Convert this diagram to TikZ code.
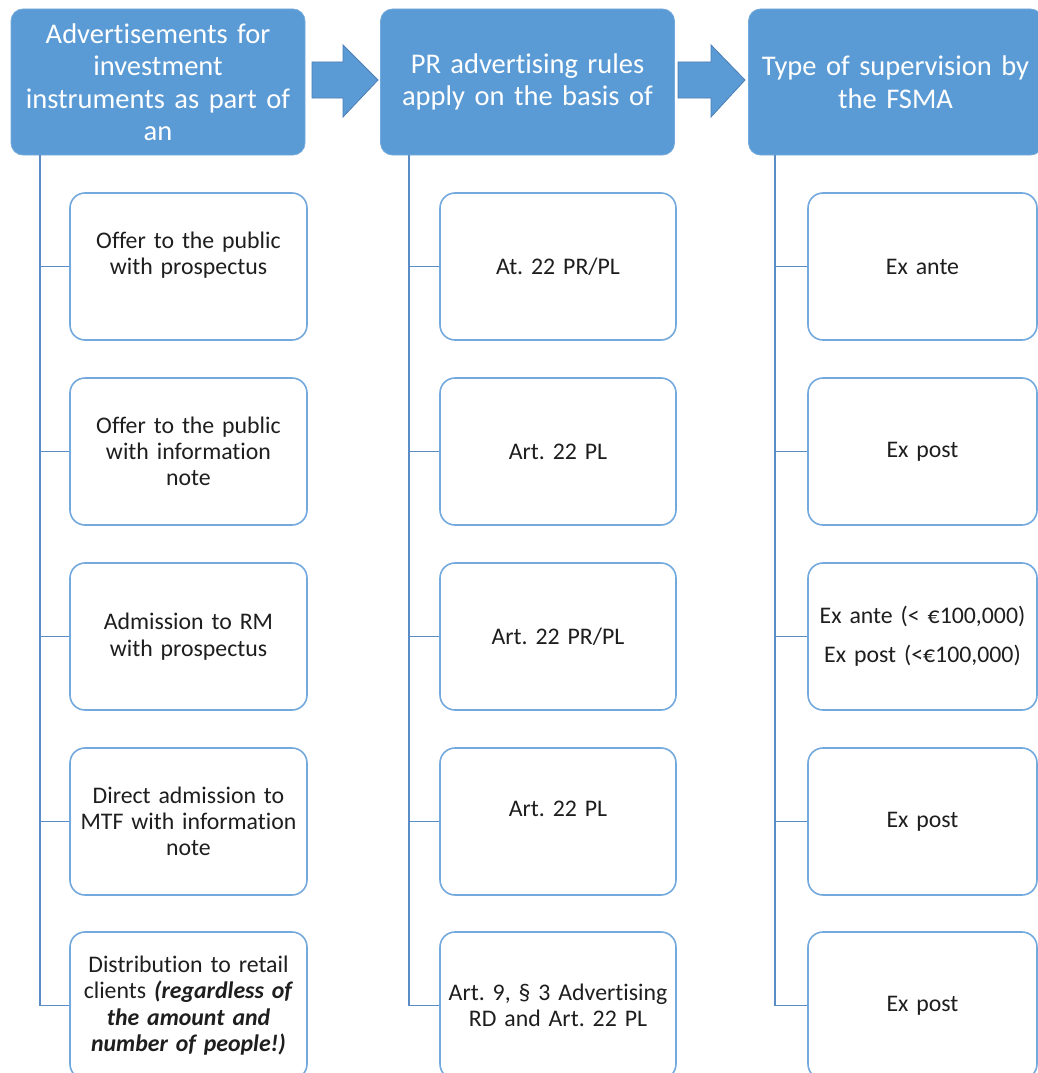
\documentclass[tikz,border=0pt]{standalone}
\usepackage{fontspec}
\setmainfont{Carlito}[Ligatures={NoCommon}]
\frenchspacing
\definecolor{hdr}{HTML}{5B9BD5}
\definecolor{hdrline}{HTML}{4A7EB5}
\definecolor{boxline}{HTML}{74A9DD}
\definecolor{conn}{HTML}{5A8CC6}
\definecolor{txt}{HTML}{1E1E1E}
\tikzset{
  header/.style={rectangle, rounded corners=12pt, fill=hdr, draw=hdr!85!white, line width=0.8pt,
    minimum width=294pt, minimum height=146pt, text width=290pt, align=center, inner sep=0pt,
    text=white, font=\fontsize{28.5}{32.5}\selectfont},
  child/.style={rectangle, rounded corners=15pt, fill=white, draw=boxline, line width=1.6pt,
    minimum height=147pt, inner sep=0pt, align=center, text=txt,
    font=\fontsize{23.8}{26.3}\selectfont},
  conline/.style={draw=conn, line width=1.8pt},
  blockarrow/.style={fill=hdr, draw=hdrline, line width=0.8pt, line join=miter}
}
\begin{document}
\begin{tikzpicture}[x=1pt,y=-1pt]
\useasboundingbox (0,0) rectangle (1038,1073);
\clip (0,0) rectangle (1038,1073);
% headers
\node[header] (h1) at (158,82) {Advertisements for\\investment\\instruments as part of\\an};
\node[header] (h2) at (527.5,82) {PR advertising rules\\apply on the basis of};
\node[header] (h3) at (895.5,82) {Type of supervision by\\the FSMA};
% block arrows
\draw[blockarrow] (312,62) -- (343,62) -- (343,45) -- (378,80) -- (343,117) -- (343,98) -- (312,98) -- cycle;
\draw[blockarrow] (678,62) -- (711,62) -- (711,45) -- (745,80) -- (711,117) -- (711,98) -- (678,98) -- cycle;
% column 1
\begin{scope}[every node/.append style={child, minimum width=237pt, text width=233pt}]
\node (a1) at (188.5,266.5) {Offer to the public\\with prospectus\\\mbox{}};
\node (a2) at (188.5,451.5) {Offer to the public\\with information\\note};
\node (a3) at (188.5,636.5) {Admission to RM\\with prospectus};
\node (a4) at (188.5,821.5) {Direct admission to\\MTF with information\\note};
\node (a5) at (188.5,1005.5) {Distribution to retail\\clients \textbf{\textit{(regardless of}}\\\textbf{\textit{the amount and}}\\\textbf{\textit{number of people!)}}};
\end{scope}
% column 2
\begin{scope}[every node/.append style={child, minimum width=236pt, text width=232pt}]
\node (b1) at (558,266.5) {At. 22 PR/PL};
\node (b2) at (558,451.5) {Art. 22 PL};
\node (b3) at (558,636.5) {Art. 22 PR/PL};
\node (b4) at (558,821.5) {Art. 22 PL\\\mbox{}};
\node (b5) at (558,1005.5) {Art. 9, § 3 Advertising\\RD and Art. 22 PL};
\end{scope}
% column 3
\begin{scope}[every node/.append style={child, minimum width=229pt, text width=226pt}]
\node (c1) at (922.5,266.5) {Ex ante};
\node (c2) at (922.5,451.5) {Ex post};
\node (c3) at (922.5,636.5) {Ex ante (< €100,000)\\[13pt]Ex post (<€100,000)};
\node (c4) at (922.5,821.5) {Ex post};
\node (c5) at (922.5,1005.5) {Ex post};
\end{scope}
% trunks
\coordinate (t1) at ([xshift=29pt]h1.south west);
\coordinate (t2) at ([xshift=29pt]h2.south west);
\coordinate (t3) at ([xshift=27pt]h3.south west);
\draw[conline] (t1) |- (a5.west);
\draw[conline] (t2) |- (b5.west);
\draw[conline] (t3) |- (c5.west);
\foreach \n in {a1,a2,a3,a4}{\draw[conline] (\n.west) -- (\n.west -| t1);}
\foreach \n in {b1,b2,b3,b4}{\draw[conline] (\n.west) -- (\n.west -| t2);}
\foreach \n in {c1,c2,c3,c4}{\draw[conline] (\n.west) -- (\n.west -| t3);}
\end{tikzpicture}
\end{document}
